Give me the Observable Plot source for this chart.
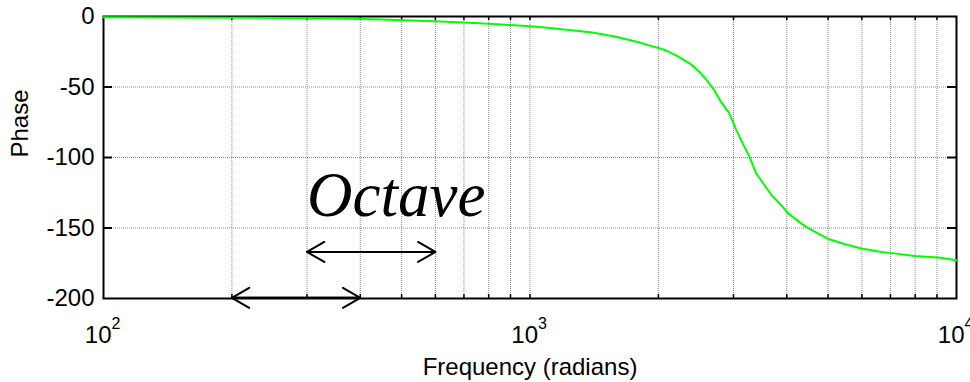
<!DOCTYPE html>
<html>
<head>
<meta charset="utf-8">
<script src="https://cdn.jsdelivr.net/npm/d3@7"></script>
<script src="https://cdn.jsdelivr.net/npm/@observablehq/plot@0.6"></script>
<style>
  html, body { margin: 0; padding: 0; background: #fff; }
</style>
</head>
<body>
<div id="chart"></div>
<script>
// Phase curve (frequency in radians, phase in degrees)
const freq = [100, 200, 280, 350, 450, 500, 600, 700, 800, 900, 1000, 1100, 1200, 1300, 1400, 1500, 1600, 1700, 1800, 1900, 2000, 2100, 2200, 2300, 2400, 2500, 2590, 2700, 2800, 2930, 3045, 3150, 3270, 3390, 3520, 3680, 3880, 4030, 4320, 4500, 5030, 5460, 5980, 6670, 7150, 7970, 9070, 10000];
const phase = [-0.6, -0.8, -1.0, -1.4, -2.2, -2.6, -3.4, -4.3, -5.2, -6.1, -7.0, -7.9, -9.2, -10.3, -11.4, -13.0, -14.5, -16.5, -18.3, -20.5, -22.3, -24.5, -27.5, -31.0, -34.5, -39.5, -44.8, -51.9, -60.2, -68.5, -80.4, -89.8, -99.4, -111.2, -118.3, -126.6, -133.7, -139.6, -146.7, -150.3, -158.0, -161.4, -164.5, -167.0, -168.0, -169.8, -171.0, -172.8];

// Axes
const xMajor = [100, 1000, 10000];
const xBaseLabels = ["10", "10", "10"];
const xExpLabels = ["2", "3", "4"];
const xGrid = [200, 300, 400, 500, 600, 700, 800, 900, 1000, 2000, 3000, 4000, 5000, 6000, 7000, 8000, 9000];
const yTicks = [0, -50, -100, -150, -200];
const yGrid = [-50, -100, -150];
const xTitle = ["Frequency (radians)"];
const yTitle = ["Phase"];

// Annotations: octave arrows and label
const arrowFrom = [300, 200];
const arrowTo = [600, 400];
const arrowY = [-167, -199.5];
const noteText = ["Octave"];
const noteX = [300];
const noteY = [-141.5];

const W = 970, H = 382, ML = 103, MR = 14, MT = 16, MB = 84;
const FW = W - ML - MR, FH = H - MT - MB;
const sans = "'Liberation Sans', Arial, Helvetica, sans-serif";

const curve = freq.map((f, i) => ({f, p: phase[i]}));
const arrows = arrowFrom.map((a, i) => ({a, b: arrowTo[i], y: arrowY[i]}));
const xLab = xMajor.map((x, i) => ({x, base: xBaseLabels[i], exp: xExpLabels[i]}));
const note = noteText.map((t, i) => ({t, x: noteX[i], y: noteY[i]}));

const chart = Plot.plot({
  width: W,
  height: H,
  marginLeft: ML,
  marginRight: MR,
  marginTop: MT,
  marginBottom: MB,
  style: {fontFamily: sans, fontSize: "24px", background: "#fff", overflow: "visible"},
  x: {type: "log", domain: [100, 10000], axis: null},
  y: {domain: [-200, 0], axis: null},
  marks: [
    // grid
    Plot.ruleX(xGrid, {stroke: "#8c8c8c", strokeWidth: 1, strokeDasharray: "1,1"}),
    Plot.ruleY(yGrid, {stroke: "#8c8c8c", strokeWidth: 1, strokeDasharray: "1,1"}),
    // inward ticks
    Plot.tickX(xGrid, {stroke: "#000", strokeWidth: 1.5, insetBottom: FH - 4}),
    Plot.tickX(xGrid, {stroke: "#000", strokeWidth: 1.5, insetTop: FH - 4}),
    Plot.tickY(yGrid, {stroke: "#000", strokeWidth: 2, insetRight: FW - 9}),
    Plot.tickY(yGrid, {stroke: "#000", strokeWidth: 2, insetLeft: FW - 9}),
    // frame
    Plot.frame({stroke: "#000", strokeWidth: 2}),
    // data curve
    Plot.line(curve, {x: "f", y: "p", stroke: "#00ff00", strokeWidth: 2}),
    // arrows (double-headed via two opposite arrows)
    Plot.arrow(arrows, {x1: "a", x2: "b", y1: "y", y2: "y", stroke: "#000", strokeWidth: 2, headLength: 15, headAngle: 60}),
    Plot.arrow(arrows, {x1: "b", x2: "a", y1: "y", y2: "y", stroke: "#000", strokeWidth: 2, headLength: 15, headAngle: 60}),
    // annotation text
    Plot.text(note, {x: "x", y: "y", text: "t", textAnchor: "start", lineAnchor: "bottom",
      fontFamily: "'Liberation Serif', 'Times New Roman', serif", fontStyle: "italic", fontSize: 63, fill: "#000"}),
    // y tick labels
    Plot.text(yTicks, {y: d => d, text: d => String(d), frameAnchor: "left", dx: -9, textAnchor: "end", fontSize: 24, fill: "#000"}),
    // x tick labels with superscripts
    Plot.text(xLab, {x: "x", text: "base", frameAnchor: "bottom", dx: 8, dy: 44, textAnchor: "end", lineAnchor: "bottom", fontSize: 24, fill: "#000"}),
    Plot.text(xLab, {x: "x", text: "exp", frameAnchor: "bottom", dx: 8, dy: 30, textAnchor: "start", lineAnchor: "bottom", fontSize: 16, fill: "#000"}),
    // axis titles
    Plot.text(xTitle, {frameAnchor: "bottom", dy: 76, lineAnchor: "bottom", fontSize: 24, fill: "#000"}),
    Plot.text(yTitle, {frameAnchor: "left", dx: -93, rotate: -90, lineAnchor: "top", fontSize: 24, fill: "#000"})
  ]
});
document.getElementById("chart").append(chart);
</script>
</body>
</html>
